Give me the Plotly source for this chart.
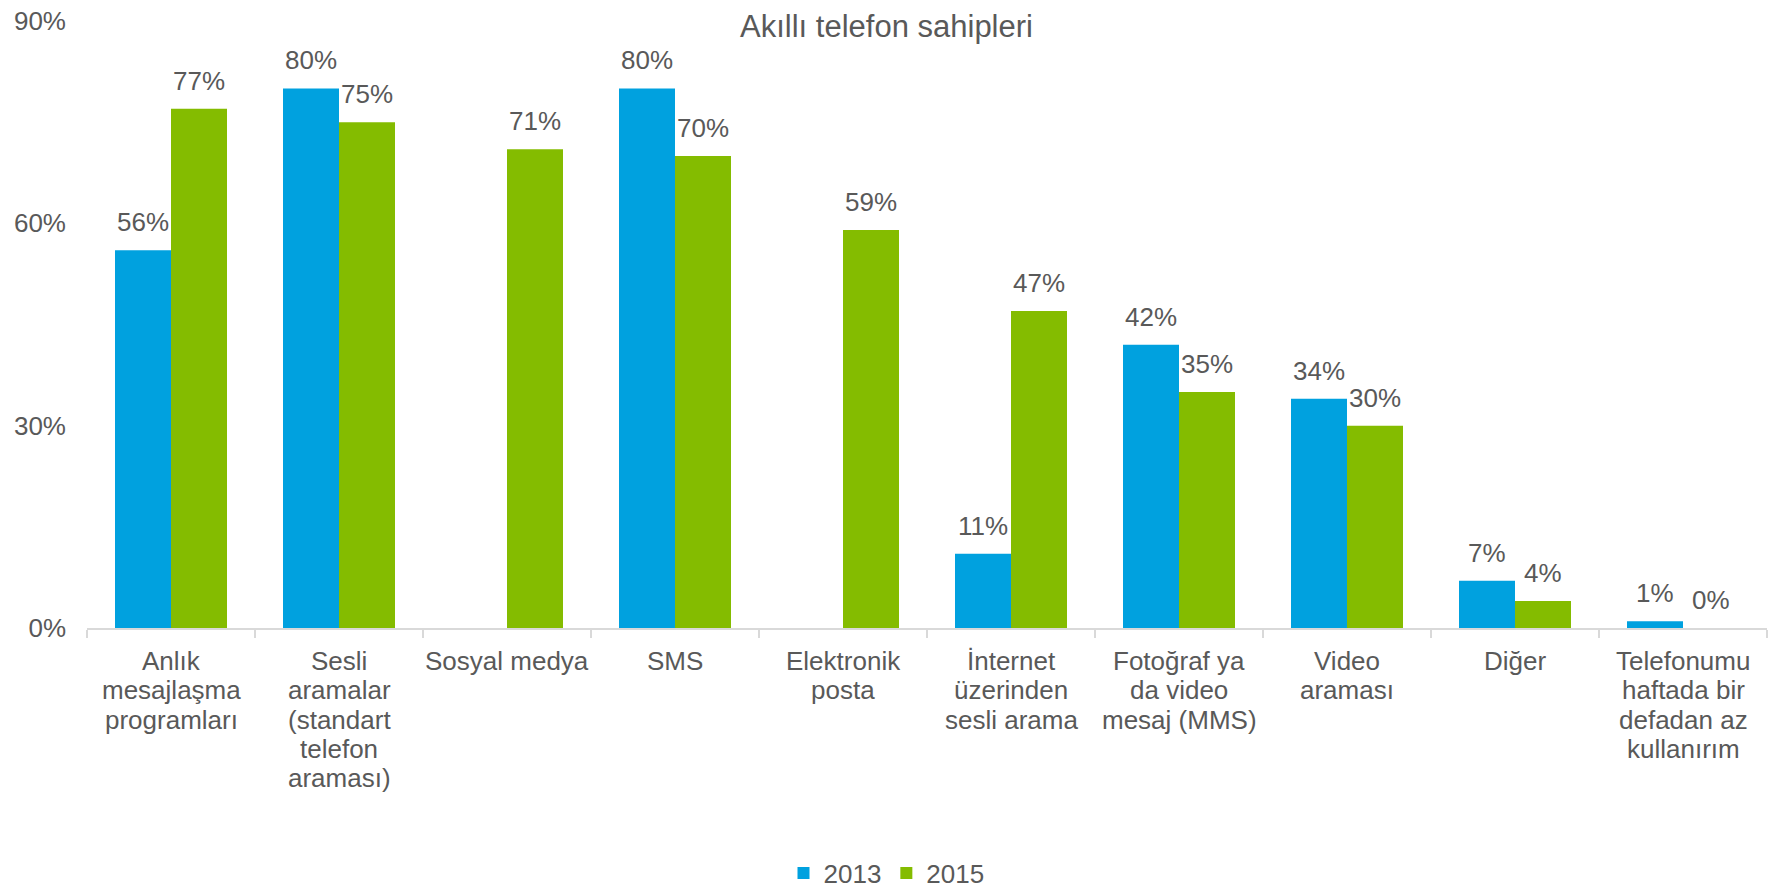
import plotly.graph_objects as go

# Kategoriler (eksen etiketleri, satır sonlarıyla)
categories = [
    "Anlık<br>mesajlaşma<br>programları",
    "Sesli<br>aramalar<br>(standart<br>telefon<br>araması)",
    "Sosyal medya",
    "SMS",
    "Elektronik<br>posta",
    "İnternet<br>üzerinden<br>sesli arama",
    "Fotoğraf ya<br>da video<br>mesaj (MMS)",
    "Video<br>araması",
    "Diğer",
    "Telefonumu<br>haftada bir<br>defadan az<br>kullanırım",
]

# Yüzde değerleri (None = o yıl için veri yok)
values_2013 = [56, 80, None, 80, None, 11, 42, 34, 7, 1]
values_2015 = [77, 75, 71, 70, 59, 47, 35, 30, 4, 0]

series_names = ["2013", "2015"]
y_ticks = [0, 30, 60, 90]

BLUE = "#00A1DF"
GREEN = "#84BC00"
TEXT = "#595959"
FONT = "Liberation Sans, Arial, sans-serif"
LABEL_SIZE = 26
LINE_STEP = 29.3        # satır aralığı (px), kategori etiketleri için
FIRST_LINE_DROP = 33    # eksen çizgisinden ilk satır ortasına uzaklık (px)

fig = go.Figure()
fig.add_trace(go.Bar(name=series_names[0], x=categories, y=values_2013,
                     marker=dict(color=BLUE, line=dict(width=0))))
fig.add_trace(go.Bar(name=series_names[1], x=categories, y=values_2015,
                     marker=dict(color=GREEN, line=dict(width=0))))

annotations = []

# Değer etiketleri: her çubuğun ortasında, üst kenarının biraz üstünde
for offset, vals in ((-1 / 6, values_2013), (1 / 6, values_2015)):
    for i, v in enumerate(vals):
        if v is None:
            continue
        annotations.append(dict(
            x=i + offset, y=v, xref="x", yref="y",
            text=f"{v}%", showarrow=False,
            xanchor="center", yanchor="bottom", yshift=11,
            font=dict(family=FONT, size=LABEL_SIZE, color=TEXT),
        ))

# Kategori etiketleri: sıkı satır aralığı için her satır ayrı metin
for i, label in enumerate(categories):
    for k, line in enumerate(label.split("<br>")):
        annotations.append(dict(
            x=i, y=0, xref="x", yref="y",
            text=line, showarrow=False,
            xanchor="center", yanchor="middle",
            yshift=-(FIRST_LINE_DROP + k * LINE_STEP),
            font=dict(family=FONT, size=LABEL_SIZE, color=TEXT),
        ))

fig.update_layout(
    width=1773, height=889,
    paper_bgcolor="white", plot_bgcolor="white",
    margin=dict(l=87, r=6, t=16, b=261),
    barmode="group", bargap=1 / 3, bargroupgap=0,
    font=dict(family=FONT, size=LABEL_SIZE, color=TEXT),
    title=dict(text="Akıllı telefon sahipleri", x=0.5, xref="container",
               xanchor="center", y=1 - 26 / 889, yref="container",
               yanchor="middle",
               font=dict(family=FONT, size=31, color=TEXT)),
    legend=dict(orientation="h", x=0.5, xref="container", xanchor="center",
                y=1 - 873 / 889, yref="container", yanchor="middle",
                font=dict(family=FONT, size=LABEL_SIZE, color=TEXT),
                itemwidth=30, traceorder="normal"),
    annotations=annotations,
    xaxis=dict(
        type="category", showline=True, linecolor="#D9D9D9", linewidth=2,
        ticks="outside", tickson="boundaries", ticklen=8, tickwidth=2,
        tickcolor="#D9D9D9", showgrid=False, zeroline=False,
        showticklabels=False,
    ),
    yaxis=dict(
        range=[0, 90], tickvals=y_ticks, ticktext=[f"{t}%" for t in y_ticks],
        showgrid=False, zeroline=False, showline=False,
        tickfont=dict(family=FONT, size=LABEL_SIZE, color=TEXT),
        ticklabelstandoff=20,
    ),
)

fig.write_html("out.html")
